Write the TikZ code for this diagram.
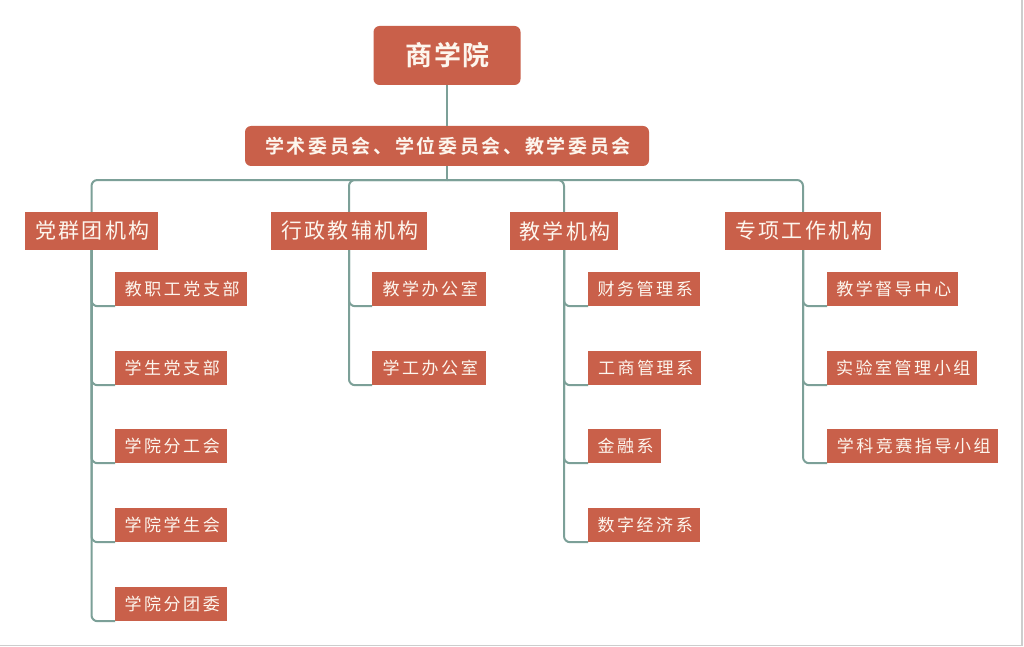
\documentclass[tikz,border=0pt]{standalone}
\usepackage{fontspec}
\newfontfamily\cjkroot[LetterSpace=6]{Noto Sans CJK SC Bold}
\newfontfamily\cjkcom[LetterSpace=14]{Noto Sans CJK SC Bold}
\newfontfamily\cjkcat[LetterSpace=10]{Noto Sans CJK SC}
\newfontfamily\cjkleaf[LetterSpace=15]{Noto Sans CJK SC}
\definecolor{brick}{RGB}{201,96,74}
\definecolor{txtc}{RGB}{253,246,238}
\definecolor{linec}{RGB}{124,160,152}
\definecolor{edgec}{RGB}{205,205,205}
\tikzset{
  box/.style={fill=brick, text=txtc, inner sep=0pt, align=center},
  rootbox/.style={box, rounded corners=6pt, minimum width=147pt, minimum height=59pt,
     font=\cjkroot\fontsize{27}{27}\selectfont},
  combox/.style={box, rounded corners=6pt, minimum width=404pt, minimum height=40pt,
     font=\cjkcom\fontsize{19}{19}\selectfont},
  catbox/.style={box, minimum height=38pt, font=\cjkcat\fontsize{21}{21}\selectfont},
  leafbox/.style={box, anchor=west, minimum height=34pt, font=\cjkleaf\fontsize{17}{17}\selectfont},
  conn/.style={draw=linec, line width=2pt, rounded corners=6pt},
}
\begin{document}
\begin{tikzpicture}[x=1pt,y=-1pt]
\useasboundingbox (0,0) rectangle (1024,647);
\fill[white] (0,0) rectangle (1024,647);
\draw[edgec, line width=1.5pt] (1022,0) -- (1022,645.5) -- (0,645.5);

\node[rootbox] (root) at (447,55.5) {\kern1pt商学院};
\node[combox] (com) at (447,146) {\kern2pt学术委员会、学位委员会、教学委员会};

\node[catbox, minimum width=133pt] (c1) at (91.5,231) {\kern2pt党群团机构};
\node[catbox, minimum width=156pt] (c2) at (349,231) {\kern2pt行政教辅机构};
\node[catbox, minimum width=108pt] (c3) at (564,231) {\kern2pt教学机构};
\node[catbox, minimum width=156pt] (c4) at (803,231) {\kern2pt专项工作机构};

% group 1
\node[leafbox, minimum width=132pt] (a1) at (115,289) {\kern2pt教职工党支部};
\node[leafbox, minimum width=112pt] (a2) at (115,368) {\kern2pt学生党支部};
\node[leafbox, minimum width=112pt] (a3) at (115,446) {\kern2pt学院分工会};
\node[leafbox, minimum width=112pt] (a4) at (115,525) {\kern2pt学院学生会};
\node[leafbox, minimum width=112pt] (a5) at (115,604) {\kern2pt学院分团委};
% group 2
\node[leafbox, minimum width=114pt] (b1) at (372,289) {\kern2pt教学办公室};
\node[leafbox, minimum width=114pt] (b2) at (372,368) {\kern2pt学工办公室};
% group 3
\node[leafbox, minimum width=112pt] (d1) at (588,289) {\kern2pt财务管理系};
\node[leafbox, minimum width=113pt] (d2) at (588,368) {\kern2pt工商管理系};
\node[leafbox, minimum width=73pt] (d3) at (588,446) {\kern2pt金融系};
\node[leafbox, minimum width=112pt] (d4) at (588,525) {\kern2pt数字经济系};
% group 4
\node[leafbox, minimum width=131pt] (e1) at (827,289) {\kern2pt教学督导中心};
\node[leafbox, minimum width=150pt] (e2) at (827,368) {\kern2pt实验室管理小组};
\node[leafbox, minimum width=171pt] (e3) at (827,446) {\kern2pt学科竞赛指导小组};

\coordinate (hub) at (447,180);

\draw[conn] (root.south) -- (com.north);
\draw[conn, rounded corners=0pt] (com.south) -- (hub);
\foreach \c in {c1,c2,c3,c4} \draw[conn] (hub) -| (\c.north);

\foreach \l in {a1,a2,a3,a4,a5} \draw[conn] (c1.south) |- (\l.south west);
\foreach \l in {b1,b2} \draw[conn] (c2.south) |- (\l.south west);
\foreach \l in {d1,d2,d3,d4} \draw[conn] (c3.south) |- (\l.south west);
\foreach \l in {e1,e2,e3} \draw[conn] (c4.south) |- (\l.south west);
\end{tikzpicture}
\end{document}
